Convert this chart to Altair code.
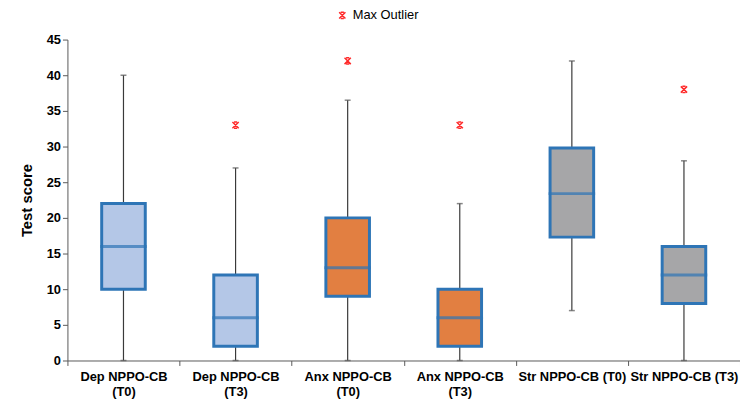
import altair as alt
import pandas as pd

categories = ["Dep NPPO-CB (T0)", "Dep NPPO-CB (T3)", "Anx NPPO-CB (T0)",
              "Anx NPPO-CB (T3)", "Str NPPO-CB (T0)", "Str NPPO-CB (T3)"]
groups = ["Dep", "Dep", "Anx", "Anx", "Str", "Str"]
whisker_min = [0, 0, 0, 0, 7, 0]
q1 = [10, 2, 9, 2, 17.3, 8]
median = [16, 6, 13, 6, 23.4, 12]
q3 = [22, 12, 20, 10, 29.8, 16]
whisker_max = [40, 27, 36.5, 22, 42, 28]
outliers = [None, 33, 42, 33, None, 38]
y_ticks = [0, 5, 10, 15, 20, 25, 30, 35, 40, 45]

group_colors = {"Dep": "#B4C7E7", "Anx": "#E27F41", "Str": "#A6A6A8"}

df = pd.DataFrame({
    "cat": categories, "group": groups, "lo": whisker_min, "q1": q1,
    "med": median, "q3": q3, "hi": whisker_max,
})
df_out = pd.DataFrame({"cat": categories, "out": outliers}).dropna()
df_out["series"] = "Max Outlier"

FONT = "Liberation Sans"
x_axis = alt.Axis(
    labelAngle=0, labelFontWeight="bold", labelFontSize=13,
    labelFont=FONT, labelColor="black", labelPadding=5,
    labelLineHeight=15, tickBand="extent", tickSize=5,
    domainColor="#595959", tickColor="#595959",
    labelExpr="slice(datum.label,0,1)=='S' ? datum.label : [substring(datum.label,0,11), substring(datum.label,12)]")
x_scale = alt.Scale(paddingInner=0, paddingOuter=0)
y_scale = alt.Scale(domain=[0, 45], nice=False)
y_axis = alt.Axis(values=y_ticks, grid=False, labelFontWeight="bold",
                  labelFontSize=13, labelFont=FONT, labelColor="black",
                  tickSize=5, domainColor="#595959", tickColor="#595959",
                  title="Test score", titleFont=FONT, titleFontSize=15,
                  titleFontWeight="bold", titleColor="black", titlePadding=12)


def X():
    return alt.X("cat:N", sort=categories, title=None, scale=x_scale, axis=x_axis)


def Y(field):
    return alt.Y(field, scale=y_scale, axis=y_axis)


base = alt.Chart(df)

whisk = base.mark_rule(color="#3a3a3a", strokeWidth=1.2).encode(
    x=X(), y=Y("lo:Q"), y2="hi:Q")
caps_hi = base.mark_tick(color="#555555", size=6, thickness=1.5).encode(
    x=X(), y=Y("hi:Q"))
caps_lo = base.mark_tick(color="#555555", size=6, thickness=1.5).encode(
    x=X(), y=Y("lo:Q"))
box = base.mark_bar(size=44, stroke="#2E75B6", strokeWidth=3).encode(
    x=X(), y=Y("q1:Q"), y2="q3:Q",
    fill=alt.Fill("group:N", scale=alt.Scale(domain=list(group_colors),
                                             range=list(group_colors.values())),
                  legend=None))
med = base.mark_tick(color="#2E75B6", size=47, thickness=3).encode(
    x=X(), y=Y("med:Q"))

star = "M-1,-1L1,1M-1,1L1,-1M-0.5,-1L0.5,-1M-0.5,1L0.5,1"
outl = alt.Chart(df_out).mark_point(shape=star, filled=False, fill=None,
                                    strokeWidth=1.5, size=40, opacity=1).encode(
    x=X(), y=Y("out:Q"),
    stroke=alt.Stroke("series:N", scale=alt.Scale(range=["#FF2A2A"]),
                      legend=alt.Legend(orient="none", legendX=271, legendY=-31,
                                        title=None, labelFont=FONT, labelFontSize=13,
                                        labelColor="black", symbolType=star,
                                        symbolSize=40, symbolStrokeWidth=1.5,
                                        symbolFillColor="transparent",
                                        labelOffset=4)))

chart = alt.layer(whisk, caps_hi, caps_lo, box, med, outl).properties(
    width=679, height=324,
    autosize=alt.AutoSizeParams(type="none"),
    padding={"left": 60, "top": 30, "right": 0, "bottom": 38},
).configure_view(stroke=None)

chart.save("out.html", embed_options={"renderer": "svg", "actions": False})
